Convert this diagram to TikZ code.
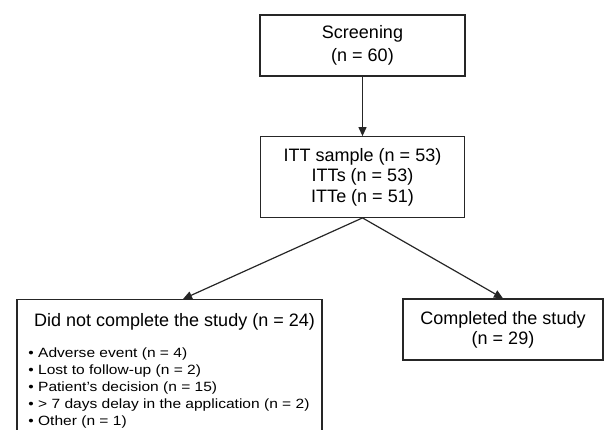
\documentclass[tikz,border=0pt]{standalone}
\usepackage{fontspec}
\setmainfont{Liberation Sans}
\usetikzlibrary{positioning, arrows.meta, calc}

\newcommand{\widetext}[1]{\scalebox{1.16}[1]{#1}}

\tikzset{
    stage/.style={draw=black!85, line width=0.6pt, align=center, inner sep=0pt},
    flow/.style={draw=black!85, line width=0.6pt, -{Triangle[length=4.5pt, width=4pt]}},
    reason/.style={anchor=base west, inner sep=0pt, font=\fontsize{6.7}{8}\selectfont}
}

\begin{document}
\begin{tikzpicture}[x=0.5pt, y=-0.5pt]
    \useasboundingbox (0,0) rectangle (605,429);
    \clip (0,0) rectangle (605,429);

    % boxes
    \node[stage, minimum width=102.5pt, minimum height=30.5pt,
        font=\fontsize{9}{11.8}\selectfont] (screen) at (362.5,45.5)
        {Screening\\(n = 60)};
    \node[stage, minimum width=102pt, minimum height=40.3pt,
        font=\fontsize{9}{10.25}\selectfont] (itt) at (362.5,177)
        {ITT sample (n = 53)\\ITTs (n = 53)\\ITTe (n = 51)};
    \node[stage, minimum width=100pt, minimum height=30.5pt,
        font=\fontsize{9}{10}\selectfont] (done) at (503,329.5)
        {Completed the study\\(n = 29)};
    \node[stage, minimum width=152.5pt, minimum height=70.5pt, anchor=north]
        (notdone) at (169.5,299) {};

    % text of the open box
    \node[anchor=base, inner sep=0pt, font=\fontsize{9}{10}\selectfont]
        (notdonetitle) at (174.5,326) {Did not complete the study (n = 24)};
    \foreach \txt [count=\i from 0] in {
        Adverse event (n = 4),
        Lost to follow-up (n = 2),
        Patient’s decision (n = 15),
        > 7 days delay in the application (n = 2),
        Other (n = 1)}
    {
        \node[reason] (reason\i) at (28, 357.5+17*\i) {\widetext{\textbullet\ \txt}};
    }

    % arrows
    \draw[flow] (screen) -- (itt);
    \draw[flow] (itt.south) -- ([xshift=6.75pt]notdone.north);
    \draw[flow] (itt.south) -- (done.north);
\end{tikzpicture}
\end{document}
